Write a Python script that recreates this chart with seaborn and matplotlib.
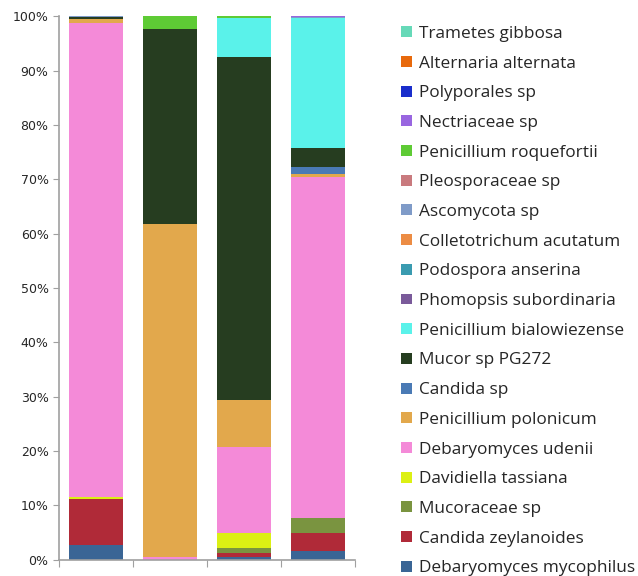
import matplotlib
matplotlib.use("Agg")
import matplotlib.pyplot as plt
from matplotlib.ticker import PercentFormatter
import seaborn as sns
import pandas as pd

samples = ["S1", "S2", "S3", "S4"]

# species listed from bottom of the stack to the top
species = [
    "Debaryomyces mycophilus", "Candida zeylanoides", "Mucoraceae sp",
    "Davidiella tassiana", "Debaryomyces udenii", "Penicillium polonicum",
    "Candida sp", "Mucor sp PG272", "Penicillium bialowiezense",
    "Phomopsis subordinaria", "Podospora anserina", "Colletotrichum acutatum",
    "Ascomycota sp", "Pleosporaceae sp", "Penicillium roquefortii",
    "Nectriaceae sp", "Polyporales sp", "Alternaria alternata", "Trametes gibbosa",
]
colors = [
    "#3a6595", "#b02a38", "#7a9440", "#dcf014", "#f48ad8", "#e2a84c",
    "#4a7ab5", "#263d20", "#5af2ea", "#7a5a9a", "#3a9bb0", "#ec8c44",
    "#7f9bc8", "#c97a7e", "#5ecb35", "#9966e0", "#1a2ecc", "#e8690c", "#66d9b8",
]

# percent of reads per sample (S1, S2, S3, S4)
mycophilus = [2.8, 0.0, 0.6, 1.7]
zeylanoides = [8.4, 0.0, 0.6, 3.2]
mucoraceae = [0.0, 0.0, 0.9, 2.8]
davidiella = [0.4, 0.0, 2.8, 0.0]
udenii = [87.1, 0.5, 15.9, 62.7]
polonicum = [0.8, 61.2, 8.6, 0.6]
candida_sp = [0.0, 0.0, 0.0, 1.3]
mucor = [0.4, 35.9, 63.0, 3.4]
bialowiezense = [0.0, 0.0, 7.3, 23.9]
phomopsis = [0.0, 0.0, 0.0, 0.0]
podospora = [0.0, 0.0, 0.0, 0.0]
colletotrichum = [0.0, 0.0, 0.0, 0.0]
ascomycota = [0.1, 0.0, 0.0, 0.2]
pleosporaceae = [0.0, 0.0, 0.0, 0.0]
roquefortii = [0.0, 2.4, 0.3, 0.0]
nectriaceae = [0.0, 0.0, 0.0, 0.2]
polyporales = [0.0, 0.0, 0.0, 0.0]
alternaria = [0.0, 0.0, 0.0, 0.0]
trametes = [0.0, 0.0, 0.0, 0.0]

values = [mycophilus, zeylanoides, mucoraceae, davidiella, udenii, polonicum,
          candida_sp, mucor, bialowiezense, phomopsis, podospora, colletotrichum,
          ascomycota, pleosporaceae, roquefortii, nectriaceae, polyporales,
          alternaria, trametes]

df = pd.DataFrame(dict(zip(species, values)), index=samples)
df = df.div(df.sum(axis=1), axis=0) * 100

sns.set_style("white")
fig = plt.figure(figsize=(6.38, 5.76), dpi=100)
ax = fig.add_axes([0.0925, 0.028, 0.464, 0.944])

bottom = pd.Series(0.0, index=samples)
for name, col in zip(species, colors):
    d = pd.DataFrame({"sample": samples, "pct": df[name].values})
    sns.barplot(data=d, x="sample", y="pct", color=col, bottom=bottom.values,
                width=0.74, label=name, ax=ax, saturation=1, linewidth=0)
    bottom = bottom + df[name]

handles, labels = ax.get_legend_handles_labels()
if ax.get_legend() is not None:
    ax.get_legend().remove()

ax.set_ylim(0, 100)
ax.set_xlim(-0.5, 3.5)
ax.set_yticks(range(0, 101, 10))
ax.yaxis.set_major_formatter(PercentFormatter(decimals=0))
ax.set_xticks([-0.5, 0.5, 1.5, 2.5, 3.5])
ax.set_xticklabels([])
ax.set_xlabel("")
ax.set_ylabel("")
ax.tick_params(axis="y", labelsize=9, length=4, color="#a0a0a0", left=True)
ax.tick_params(axis="x", length=5, color="#a0a0a0", bottom=True)
for s in ["top", "right"]:
    ax.spines[s].set_visible(False)
for s in ["left", "bottom"]:
    ax.spines[s].set_color("#a0a0a0")
    ax.spines[s].set_linewidth(1.2)

leg = fig.legend(handles[::-1], labels[::-1], loc="upper left",
                 bbox_to_anchor=(0.605, 0.982), frameon=False,
                 prop={"family": "Open Sans", "size": 12.4},
                 handlelength=0.6, handleheight=0.6, handletextpad=0.4,
                 labelspacing=0.795)

fig.savefig("out.png", dpi=100)
